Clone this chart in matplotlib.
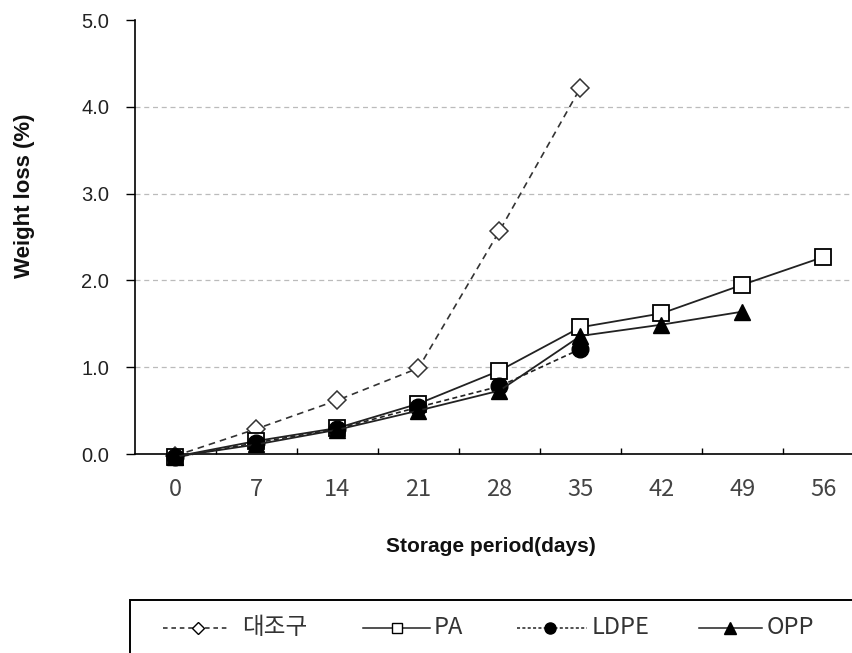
import matplotlib
matplotlib.use("Agg")
import matplotlib.pyplot as plt
from matplotlib.patches import Rectangle
from matplotlib.lines import Line2D
import numpy as np

days = ["0", "7", "14", "21", "28", "35", "42", "49", "56"]
control = [-0.02, 0.29, 0.62, 0.99, 2.57, 4.22]
pa = [-0.03, 0.15, 0.30, 0.58, 0.96, 1.46, 1.62, 1.95, 2.27]
ldpe = [-0.04, 0.13, 0.29, 0.54, 0.78, 1.21]
opp = [-0.03, 0.11, 0.28, 0.50, 0.73, 1.36, 1.49, 1.64]
series_names = ["대조구", "PA", "LDPE", "OPP"]

plt.rcParams["font.family"] = ["Liberation Sans", "Noto Sans CJK KR"]

W, H = 853, 653
fig = plt.figure(figsize=(W / 100, H / 100), dpi=100)
ax = fig.add_axes([135 / W, 1 - 454 / H, (864 - 135) / W, (454 - 20) / H])

x = np.arange(len(days))
line_col = "#222222"

ax.plot(x[:len(control)], control, ls=(0, (4, 3)), color="#333333", lw=1.2,
        marker="D", ms=9, mfc="white", mec="#333333", mew=1.1, zorder=3, clip_on=False)
ax.plot(x[:len(pa)], pa, ls="-", color=line_col, lw=1.3,
        marker="s", ms=11.5, mfc="white", mec="black", mew=1.3, zorder=4, clip_on=False)
ax.plot(x[:len(ldpe)], ldpe, ls=(0, (3, 2)), color=line_col, lw=1.2,
        marker="o", ms=12, mfc="black", mec="black", zorder=5, clip_on=False)
ax.plot(x[:len(opp)], opp, ls="-", color=line_col, lw=1.3,
        marker="^", ms=12, mfc="black", mec="black", zorder=5, clip_on=False)

ax.set_xlim(-0.5, len(days) - 0.5)
ax.set_ylim(0, 5)
yt = np.arange(0, 5.01, 1.0)
ax.set_yticks(yt)
ax.set_yticklabels([f"{v:.1f}" for v in yt], fontsize=14.5, color="#222222")
ax.set_xticks(x)
ax.set_xticklabels(days, fontsize=17, color="#444444", family=["Noto Sans CJK KR"])
ax.set_xticks(np.arange(0.5, len(days) - 0.5, 1.0), minor=True)
ax.tick_params(axis="x", which="major", length=0, pad=17)
ax.tick_params(axis="x", which="minor", direction="in", length=4.5, width=1)
ax.tick_params(axis="y", which="major", direction="out", length=6.5, width=1, pad=12)

for v in [1, 2, 3, 4]:
    ax.axhline(v, color="#bbbbbb", lw=0.9, ls=(0, (4, 3)), zorder=1)

for s in ["top", "right"]:
    ax.spines[s].set_visible(False)
ax.spines["left"].set_linewidth(1.2)
ax.spines["bottom"].set_linewidth(1.2)


def fx(px):
    return px / W


def fy(py):
    return 1 - py / H


fig.text(fx(491), fy(547), "Storage period(days)", ha="center", va="center",
         fontsize=15, fontweight="bold", color="#111111")
fig.text(fx(25), fy(196), "Weight loss (%)", ha="center", va="center",
         rotation=90, fontsize=16, fontweight="bold", color="#111111")

# legend box running off the lower/right edge
fig.patches.append(Rectangle((fx(130), -0.05), 1.0, (H - 600) / H + 0.05,
                             transform=fig.transFigure, fill=False, ec="black", lw=1.4))

legend_y = 628
legend_items = [
    # (handle start, handle end, marker x, text x, line style, marker, fill)
    (163, 228, 198, 242, (0, (3, 2.5)), "D", "white", 6.5),
    (363, 430, 397, 434, "-", "s", "white", 7.5),
    (517, 587, 550, 592, (0, (2, 1.5)), "o", "black", 8),
    (699, 762, 730, 767, "-", "^", "black", 8),
]
for (x0, x1, xm, xt, ls, mk, fc, msz), name in zip(legend_items, series_names):
    fig.add_artist(Line2D([fx(x0), fx(x1)], [fy(legend_y), fy(legend_y)],
                          transform=fig.transFigure, ls=ls, color="#222222", lw=1.1))
    fig.add_artist(Line2D([fx(xm)], [fy(legend_y)], transform=fig.transFigure,
                          ls="none", marker=mk, ms=msz, mfc=fc, mec="black", mew=1.0))
    fig.text(fx(xt), fy(legend_y), name, ha="left", va="center", fontsize=17,
             color="#333333", family=["Noto Sans CJK KR"])

fig.savefig("out.png", dpi=100)
